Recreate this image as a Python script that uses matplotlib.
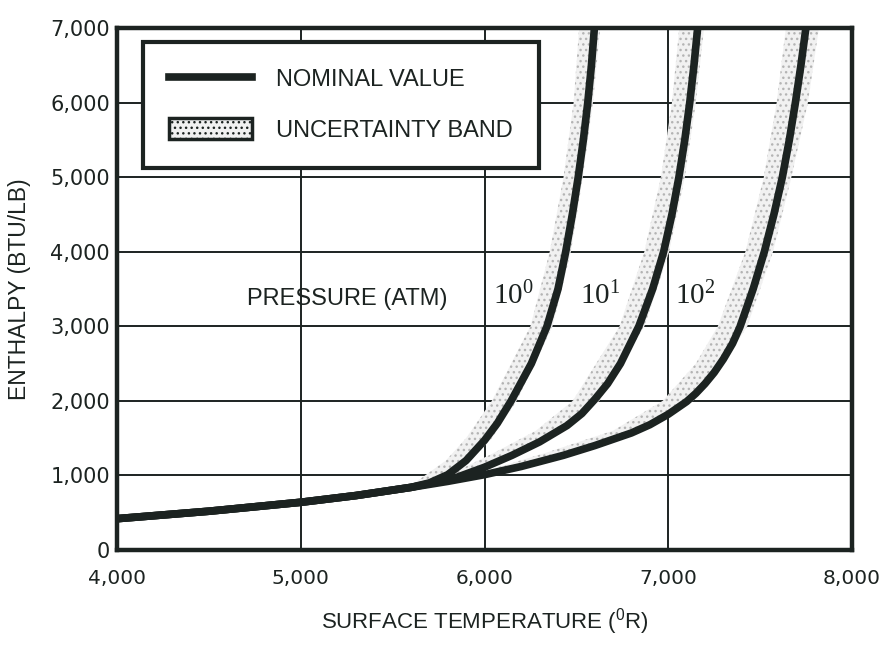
import matplotlib
matplotlib.use("Agg")
import matplotlib.pyplot as plt
import matplotlib.font_manager as fm
from matplotlib.lines import Line2D
from matplotlib.patches import Patch

# ---------------- data ----------------
x_ticks = [4000, 5000, 6000, 7000, 8000]
x_ticklabels = ["4,000", "5,000", "6,000", "7,000", "8,000"]
y_ticks = [0, 1000, 2000, 3000, 4000, 5000, 6000, 7000]
y_ticklabels = ["0", "1,000", "2,000", "3,000", "4,000", "5,000", "6,000", "7,000"]

pressure_labels = ["0", "1", "2"]

# nominal curves (surface temperature degR, enthalpy BTU/LB)
t_p0 = [4000, 4500, 5000, 5300, 5600, 5700, 5800, 5900, 6000, 6070, 6145,
        6255, 6340, 6400, 6442, 6478, 6510, 6538, 6562, 6582, 6598]
h_p0 = [420, 520, 640, 730, 840, 900, 1010, 1200, 1470, 1700, 2000,
        2500, 3000, 3500, 4000, 4500, 5000, 5500, 6000, 6500, 7000]

t_p1 = [4000, 4500, 5000, 5300, 5600, 5700, 5850, 6000, 6150, 6300, 6450,
        6530, 6600, 6670, 6740, 6840, 6915, 6975, 7020, 7058, 7090,
        7117, 7140, 7160]
h_p1 = [420, 520, 640, 730, 840, 890, 975, 1110, 1270, 1450, 1670,
        1830, 2020, 2230, 2500, 3000, 3500, 4000, 4500, 5000, 5500,
        6000, 6500, 7000]

t_p2 = [4000, 4500, 5000, 5300, 5600, 5800, 6000, 6200, 6430, 6600, 6800,
        6900, 7000, 7100, 7150, 7200, 7250, 7300, 7350, 7390, 7462,
        7523, 7575, 7621, 7659, 7692, 7722, 7749]
h_p2 = [420, 520, 640, 730, 840, 920, 1010, 1120, 1270, 1400, 1570,
        1680, 1820, 1990, 2100, 2230, 2380, 2560, 2770, 2990, 3500,
        4000, 4500, 5000, 5500, 6000, 6500, 7000]

# uncertainty bands (enthalpy levels with left / right temperature edges)
band_h_p0 = [900, 1200, 1500, 2000, 3000, 4000, 5000, 6000, 7000]
band_lo_p0 = [5620, 5790, 5900, 6040, 6250, 6355, 6430, 6485, 6515]
band_hi_p0 = [5730, 5925, 6040, 6175, 6370, 6470, 6535, 6590, 6630]

band_h_p1 = [1000, 1300, 1600, 2000, 3000, 4000, 5000, 6000, 7000]
band_lo_p1 = [5800, 6050, 6280, 6480, 6735, 6870, 6960, 7020, 7060]
band_hi_p1 = [5930, 6200, 6430, 6625, 6870, 7005, 7090, 7150, 7195]

band_h_p2 = [1100, 1300, 1600, 2000, 2500, 3000, 4000, 5000, 6000, 7000]
band_lo_p2 = [6060, 6330, 6700, 6970, 7150, 7270, 7420, 7520, 7590, 7640]
band_hi_p2 = [6210, 6500, 6860, 7135, 7300, 7430, 7570, 7670, 7760, 7820]

# ---------------- fonts ----------------
names = {f.name for f in fm.fontManager.ttflist}
plain = "Liberation Sans" if "Liberation Sans" in names else "DejaVu Sans"
serif = "Liberation Serif" if "Liberation Serif" in names else "DejaVu Serif"
plt.rcParams["font.family"] = [plain, "DejaVu Sans"]
plt.rcParams["hatch.linewidth"] = 1.0

INK = "#1c2321"
BAND_FACE = "#f1f1f1"
BAND_DOT = "#b4b4b4"

fig = plt.figure(figsize=(8.83, 6.5), dpi=100)
ax = fig.add_axes([117 / 883, 100 / 650, 735 / 883, 522 / 650])

ax.set_xlim(4000, 8000)
ax.set_ylim(0, 7000)

# grid
for xv in x_ticks[1:-1]:
    ax.axvline(xv, color=INK, lw=1.4, zorder=1)
for yv in y_ticks[1:-1]:
    ax.axhline(yv, color=INK, lw=1.4, zorder=1)

# bands
for bh, blo, bhi in [(band_h_p0, band_lo_p0, band_hi_p0),
                     (band_h_p1, band_lo_p1, band_hi_p1),
                     (band_h_p2, band_lo_p2, band_hi_p2)]:
    ax.fill_betweenx(bh, blo, bhi, facecolor=BAND_FACE, edgecolor=BAND_DOT,
                     hatch="...", linewidth=0, zorder=2)

# curves
for t, h in [(t_p0, h_p0), (t_p1, h_p1), (t_p2, h_p2)]:
    ax.plot(t, h, color=INK, lw=5.5, solid_capstyle="butt",
            solid_joinstyle="round", zorder=3)

# frame
for s in ax.spines.values():
    s.set_linewidth(3.2)
    s.set_color(INK)
    s.set_zorder(5)

ax.set_xticks(x_ticks)
ax.set_xticklabels(x_ticklabels, fontfamily="DejaVu Sans", fontsize=14.5, color=INK)
ax.set_yticks(y_ticks)
ax.set_yticklabels(y_ticklabels, fontfamily="DejaVu Sans", fontsize=15, color=INK)
ax.tick_params(axis="x", length=0, pad=14)
ax.tick_params(axis="y", length=0, pad=5)

ax.set_xlabel("SURFACE TEMPERATURE ($^{\\mathregular{0}}$R)", fontsize=16,
              color=INK, labelpad=13)
ax.set_ylabel("ENTHALPY (BTU/LB)", fontsize=16.5, color=INK, labelpad=14)

# annotations
ax.text(4705, 3290, "PRESSURE (ATM)", fontsize=17, color=INK, va="baseline")
for xp, lab in zip([6046, 6520, 7037], pressure_labels):
    ax.text(xp, 3300, "$\\mathregular{10^{%s}}$" % lab, fontfamily=serif,
            fontsize=21, color=INK, va="baseline")

# legend
handles = [Line2D([0], [0], color=INK, lw=5.5),
           Patch(facecolor=BAND_FACE, edgecolor=INK, hatch="...", linewidth=2.5)]
leg = ax.legend(handles, ["NOMINAL VALUE", "UNCERTAINTY BAND"],
                loc="upper left", bbox_to_anchor=((143 - 117) / 735, (550 - 42) / 522),
                borderaxespad=0, frameon=True, fancybox=False, framealpha=1,
                edgecolor=INK, fontsize=17, handlelength=3.5, handleheight=0.95,
                handletextpad=1.05, labelspacing=1.15, borderpad=1.1)
leg.get_frame().set_linewidth(3)
for tx in leg.get_texts():
    tx.set_color(INK)
leg.set_zorder(6)

fig.savefig("out.png", dpi=100)
